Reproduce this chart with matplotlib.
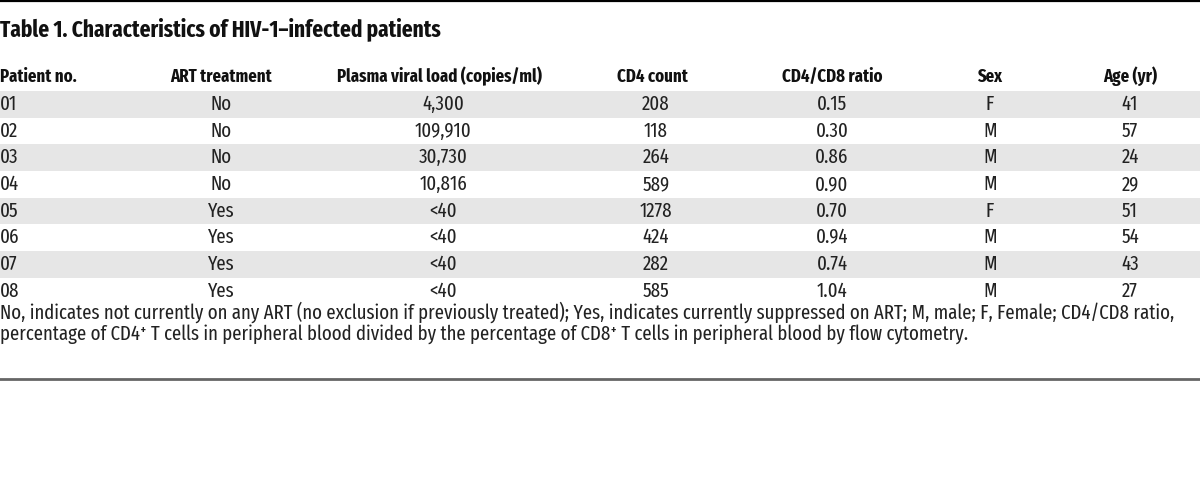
import matplotlib
matplotlib.use("Agg")
import matplotlib.pyplot as plt
from matplotlib import font_manager

title = "Table 1. Characteristics of HIV-1\u2013infected patients"
headers = ["Patient no.", "ART treatment", "Plasma viral load (copies/ml)",
           "CD4 count", "CD4/CD8 ratio", "Sex", "Age (yr)"]
patient_no = ["01", "02", "03", "04", "05", "06", "07", "08"]
art_treatment = ["No", "No", "No", "No", "Yes", "Yes", "Yes", "Yes"]
viral_load = ["4,300", "109,910", "30,730", "10,816", "<40", "<40", "<40", "<40"]
cd4_count = [208, 118, 264, 589, 1278, 424, 282, 585]
cd4_cd8_ratio = [0.15, 0.30, 0.86, 0.90, 0.70, 0.94, 0.74, 1.04]
sex = ["F", "M", "M", "M", "F", "M", "M", "M"]
age = [41, 57, 24, 29, 51, 54, 43, 27]
footnote = [
    "No, indicates not currently on any ART (no exclusion if previously treated); Yes, indicates currently suppressed on ART; M, male; F, Female; CD4/CD8 ratio,",
    "percentage of CD4\u207a T cells in peripheral blood divided by the percentage of CD8\u207a T cells in peripheral blood by flow cytometry.",
]

names = {f.name for f in font_manager.fontManager.ttflist}
fam = [n for n in ["Fira Sans Extra Condensed", "Fira Sans Condensed", "Roboto Condensed", "PT Sans Narrow"] if n in names]
fam = fam[:1] + ["DejaVu Sans"]
plt.rcParams["font.family"] = fam

W, H = 1200, 482
fig = plt.figure(figsize=(W / 100, H / 100), dpi=100)
ax = fig.add_axes([0, 0, 1, 1])
ax.set_xlim(0, W)
ax.set_ylim(H, 0)
ax.axis("off")
renderer = fig.canvas.get_renderer()


def fit_size(s, target_w, weight="normal", ref=20.0):
    t = ax.text(0, 0, s, fontsize=ref, fontweight=weight)
    w = t.get_window_extent(renderer).width
    t.remove()
    return ref * target_w / w


fs_body = fit_size(footnote[0], 1180)
fs_title = fit_size(title, 440, "bold")
fs_head = fit_size(headers[2], 204, "bold")

row_top0 = 91.0
row_h = 26.67
header_y = 76.5
txt = "#222222"

ax.axhline(1, color="black", lw=1.6)
ax.axhline(379, color="#666666", lw=2.0)

ax.text(0, 29, title, fontsize=fs_title, fontweight="bold", va="center", ha="left", color="#111111")

col_x_head = [0, 221, 439, 652, 832, 990, 1130]
col_x_data = [0, 221, 443, 656, 832, 990, 1130]
aligns = ["left"] + ["center"] * 6
for hx, h, a in zip(col_x_head, headers, aligns):
    ax.text(hx, header_y, h, fontsize=fs_head, fontweight="bold", va="center", ha=a, color="#111111")

columns = [
    patient_no,
    art_treatment,
    viral_load,
    [str(v) for v in cd4_count],
    [f"{v:.2f}" for v in cd4_cd8_ratio],
    sex,
    [str(v) for v in age],
]
for i in range(len(patient_no)):
    top = row_top0 + i * row_h
    if i % 2 == 0:
        ax.axhspan(top, top + row_h, color="#e6e6e6", lw=0, zorder=0)
    yc = top + row_h / 2
    for cx, col, a in zip(col_x_data, columns, aligns):
        ax.text(cx, yc, col[i], fontsize=fs_body, va="center", ha=a, color=txt)

ax.text(0, 312, footnote[0], fontsize=fs_body, va="center", ha="left", color=txt)
ax.text(0, 334, footnote[1], fontsize=fs_body, va="center", ha="left", color=txt)

fig.savefig("out.png", dpi=100)
